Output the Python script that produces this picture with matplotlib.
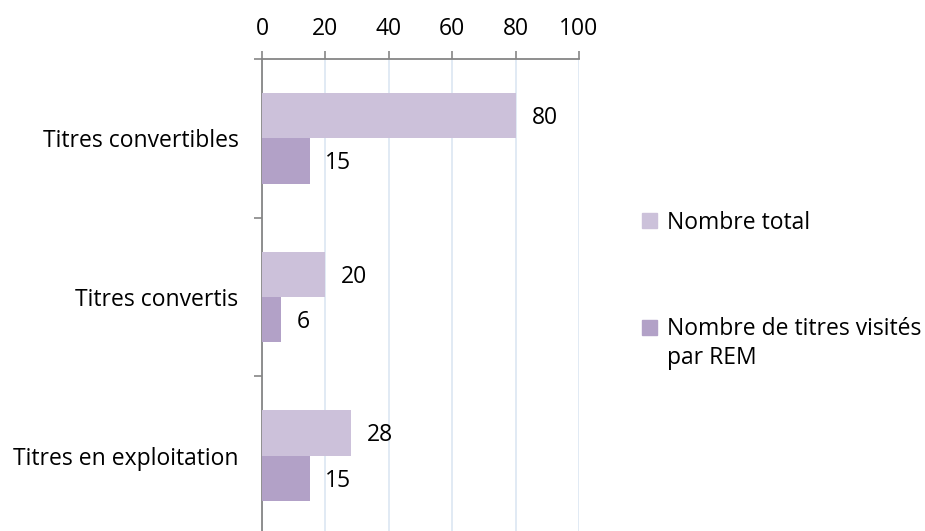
import matplotlib
matplotlib.use("Agg")
import matplotlib.pyplot as plt
from matplotlib.patches import Rectangle
import numpy as np

categories = ["Titres convertibles", "Titres convertis", "Titres en exploitation"]
series_names = ["Nombre total", "Nombre de titres visités\npar REM"]
total = [80, 20, 28]
visited = [15, 6, 15]
xticks = [0, 20, 40, 60, 80, 100]
colors = ["#CCC1DA", "#B2A1C7"]

plt.rcParams['font.family'] = ['Open Sans', 'DejaVu Sans']
FS = 16.5

fig = plt.figure(figsize=(9.25, 5.31), dpi=100)
ax = fig.add_axes([262/925, 1 - 535/531, (579-262)/925, (535-59)/531])

y = np.arange(len(categories))
h = 0.285
ax.barh(y - h/2, total, height=h, color=colors[0], zorder=3)
ax.barh(y + h/2, visited, height=h, color=colors[1], zorder=3)

for yi, v in zip(y - h/2, total):
    ax.text(v + 5, yi + 0.015, str(v), va='center', ha='left', fontsize=FS)
for yi, v in zip(y + h/2, visited):
    ax.text(v + 5, yi + 0.015, str(v), va='center', ha='left', fontsize=FS)

ax.set_xlim(0, 100)
ax.set_ylim(2.5, -0.5)
ax.xaxis.tick_top()
ax.set_xticks(xticks)
ax.set_xticklabels([str(t) for t in xticks], fontsize=FS)
ax.tick_params(axis='x', which='major', direction='out', length=6, width=1.2, color='#868686', pad=7)
ax.xaxis.grid(True, color='#DCE6F2', linewidth=1.2, zorder=0)

ax.set_yticks(y)
ax.set_yticklabels(categories, fontsize=FS)
ax.tick_params(axis='y', which='major', length=0, pad=17)
ax.set_yticks([-0.5, 0.5, 1.5, 2.5], minor=True)
ax.tick_params(axis='y', which='minor', direction='out', length=6, width=1.2, color='#868686')

for s in ['right', 'bottom']:
    ax.spines[s].set_visible(False)
for s in ['top', 'left']:
    ax.spines[s].set_color('#868686')
    ax.spines[s].set_linewidth(1.3)
ax.set_axisbelow(True)

# legend drawn manually from the series names and colours
leg_x = 642 / 925
leg_ys = [221, 327]
for name, col, ly in zip(series_names, colors, leg_ys):
    fig.patches.append(Rectangle((leg_x, 1 - (ly + 7.5)/531), 15/925, 15/531,
                                 transform=fig.transFigure, color=col))
    first, *rest = name.split('\n')
    fig.text(667/925, 1 - (ly + 2)/531, first, fontsize=FS, va='center', ha='left')
    for k, line in enumerate(rest):
        fig.text(667/925, 1 - (ly + 2 + 29*(k+1))/531, line, fontsize=FS, va='center', ha='left')

fig.savefig("out.png", dpi=100)
